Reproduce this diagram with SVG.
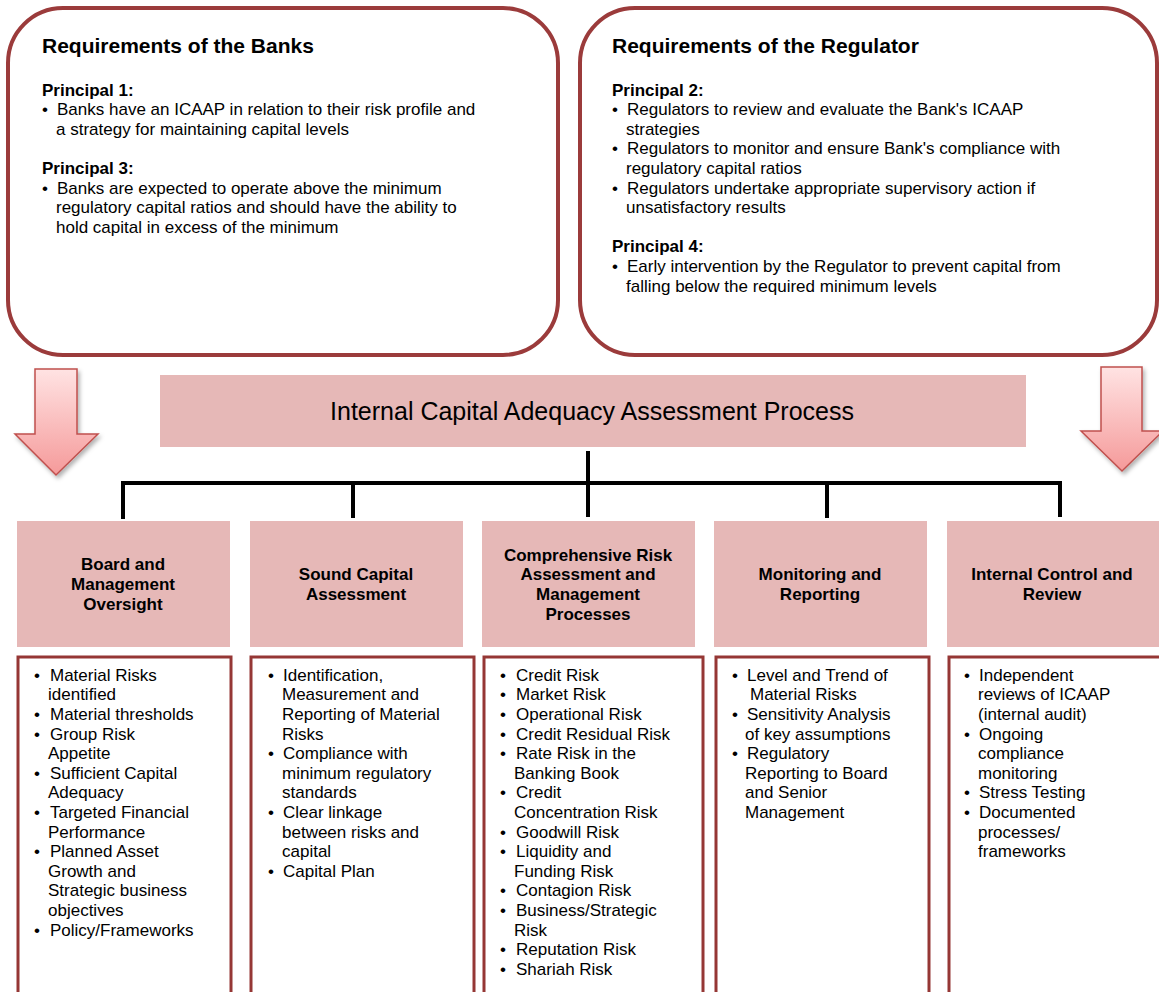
<svg xmlns="http://www.w3.org/2000/svg" width="1159" height="992" viewBox="0 0 1159 992">
<style>
text{font-family:"Liberation Sans",Arial,sans-serif;fill:#000}
.t{font-size:17px}
.b{font-size:17px;font-weight:bold}
.h{font-size:21px;font-weight:bold}
.hd{font-size:17px;font-weight:bold;text-anchor:middle}
.req{fill:#fff;stroke:#9b3b3b;stroke-width:4}
.pink{fill:#e6b8b7}
.list{fill:#fff;stroke:#953735;stroke-width:3}
.arrow{fill:url(#ag);stroke:#c0504d;stroke-width:1.5}
.con{fill:none;stroke:#000;stroke-width:4}
</style>
<defs>
<linearGradient id="ag" x1="0" y1="0" x2="0" y2="1">
<stop offset="0" stop-color="#ffe3e3"/>
<stop offset="1" stop-color="#f59a9a"/>
</linearGradient>
<filter id="sh" x="-20%" y="-20%" width="150%" height="150%">
<feDropShadow dx="2" dy="3" stdDeviation="2" flood-color="#000" flood-opacity="0.3"/>
</filter>
</defs>
<rect width="1159" height="992" fill="#fff"/>

<g id="banks">
<rect class="req" x="8" y="8" width="550" height="347" rx="55" ry="55"/>
<text class="h" x="42" y="53">Requirements of the Banks</text>
<text class="b" x="42" y="96">Principal 1:</text>
<text class="t" x="42" y="115">•</text>
<text class="t" x="57" y="115">Banks have an ICAAP in relation to their risk profile and</text>
<text class="t" x="56" y="135">a strategy for maintaining capital levels</text>
<text class="b" x="42" y="174">Principal 3:</text>
<text class="t" x="42" y="194">•</text>
<text class="t" x="57" y="194">Banks are expected to operate above the minimum</text>
<text class="t" x="56" y="213">regulatory capital ratios and should have the ability to</text>
<text class="t" x="56" y="233">hold capital in excess of the minimum</text>
</g>

<g id="regulator">
<rect class="req" x="580" y="8" width="577" height="347" rx="55" ry="55"/>
<text class="h" x="612" y="53">Requirements of the Regulator</text>
<text class="b" x="612" y="96">Principal 2:</text>
<text class="t" x="612" y="115">•</text>
<text class="t" x="627" y="115">Regulators to review and evaluate the Bank's ICAAP</text>
<text class="t" x="626" y="135">strategies</text>
<text class="t" x="612" y="154">•</text>
<text class="t" x="627" y="154">Regulators to monitor and ensure Bank's compliance with</text>
<text class="t" x="626" y="174">regulatory capital ratios</text>
<text class="t" x="612" y="194">•</text>
<text class="t" x="627" y="194">Regulators undertake appropriate supervisory action if</text>
<text class="t" x="626" y="213">unsatisfactory results</text>
<text class="b" x="612" y="252">Principal 4:</text>
<text class="t" x="612" y="272">•</text>
<text class="t" x="627" y="272">Early intervention by the Regulator to prevent capital from</text>
<text class="t" x="626" y="292">falling below the required minimum levels</text>
</g>

<g id="arrow-left" filter="url(#sh)">
<polygon class="arrow" points="35,369 77,369 77,434 98,434 56,475 15,434 35,434"/>
</g>
<g id="arrow-right" filter="url(#sh)">
<polygon class="arrow" points="1101,367 1142,367 1142,431 1163,431 1122,471 1081,431 1101,431"/>
</g>

<g id="icaap">
<rect class="pink" x="160" y="375" width="866" height="72"/>
<text x="592" y="420" font-size="25" text-anchor="middle" fill="#111">Internal Capital Adequacy Assessment Process</text>
</g>

<g id="connectors">
<path class="con" d="M588 451 V517"/>
<path class="con" d="M121 483 H1062"/>
<path class="con" d="M123 481 V519"/>
<path class="con" d="M353 481 V518"/>
<path class="con" d="M827 481 V518"/>
<path class="con" d="M1060 481 V517"/>
</g>

<g id="col1">
<rect class="pink" x="17" y="521" width="213" height="126"/>
<text class="hd" x="123" y="570">Board and</text>
<text class="hd" x="123" y="590">Management</text>
<text class="hd" x="123" y="610">Oversight</text>
<rect class="list" x="18" y="657" width="213" height="345"/>
<text class="t" x="34" y="681">•</text>
<text class="t" x="50" y="681">Material Risks</text>
<text class="t" x="48" y="700">identified</text>
<text class="t" x="34" y="720">•</text>
<text class="t" x="50" y="720">Material thresholds</text>
<text class="t" x="34" y="740">•</text>
<text class="t" x="50" y="740">Group Risk</text>
<text class="t" x="48" y="759">Appetite</text>
<text class="t" x="34" y="779">•</text>
<text class="t" x="50" y="779">Sufficient Capital</text>
<text class="t" x="48" y="798">Adequacy</text>
<text class="t" x="34" y="818">•</text>
<text class="t" x="50" y="818">Targeted Financial</text>
<text class="t" x="48" y="838">Performance</text>
<text class="t" x="34" y="857">•</text>
<text class="t" x="50" y="857">Planned Asset</text>
<text class="t" x="48" y="877">Growth and</text>
<text class="t" x="48" y="896">Strategic business</text>
<text class="t" x="48" y="916">objectives</text>
<text class="t" x="34" y="936">•</text>
<text class="t" x="50" y="936">Policy/Frameworks</text>
</g>

<g id="col2">
<rect class="pink" x="250" y="521" width="213" height="126"/>
<text class="hd" x="356" y="580">Sound Capital</text>
<text class="hd" x="356" y="600">Assessment</text>
<rect class="list" x="251" y="657" width="223" height="345"/>
<text class="t" x="268" y="681">•</text>
<text class="t" x="283" y="681">Identification,</text>
<text class="t" x="282" y="700">Measurement and</text>
<text class="t" x="282" y="720">Reporting of Material</text>
<text class="t" x="282" y="740">Risks</text>
<text class="t" x="268" y="759">•</text>
<text class="t" x="283" y="759">Compliance with</text>
<text class="t" x="282" y="779">minimum regulatory</text>
<text class="t" x="282" y="798">standards</text>
<text class="t" x="268" y="818">•</text>
<text class="t" x="283" y="818">Clear linkage</text>
<text class="t" x="282" y="838">between risks and</text>
<text class="t" x="282" y="857">capital</text>
<text class="t" x="268" y="877">•</text>
<text class="t" x="283" y="877">Capital Plan</text>
</g>

<g id="col3">
<rect class="pink" x="482" y="521" width="213" height="126"/>
<text class="hd" x="588" y="561">Comprehensive Risk</text>
<text class="hd" x="588" y="580">Assessment and</text>
<text class="hd" x="588" y="600">Management</text>
<text class="hd" x="588" y="620">Processes</text>
<rect class="list" x="484" y="657" width="219" height="345"/>
<text class="t" x="500" y="681">•</text>
<text class="t" x="516" y="681">Credit Risk</text>
<text class="t" x="500" y="700">•</text>
<text class="t" x="516" y="700">Market Risk</text>
<text class="t" x="500" y="720">•</text>
<text class="t" x="516" y="720">Operational Risk</text>
<text class="t" x="500" y="740">•</text>
<text class="t" x="516" y="740">Credit Residual Risk</text>
<text class="t" x="500" y="759">•</text>
<text class="t" x="516" y="759">Rate Risk in the</text>
<text class="t" x="514" y="779">Banking Book</text>
<text class="t" x="500" y="798">•</text>
<text class="t" x="516" y="798">Credit</text>
<text class="t" x="514" y="818">Concentration Risk</text>
<text class="t" x="500" y="838">•</text>
<text class="t" x="516" y="838">Goodwill Risk</text>
<text class="t" x="500" y="857">•</text>
<text class="t" x="516" y="857">Liquidity and</text>
<text class="t" x="514" y="877">Funding Risk</text>
<text class="t" x="500" y="896">•</text>
<text class="t" x="516" y="896">Contagion Risk</text>
<text class="t" x="500" y="916">•</text>
<text class="t" x="516" y="916">Business/Strategic</text>
<text class="t" x="514" y="936">Risk</text>
<text class="t" x="500" y="955">•</text>
<text class="t" x="516" y="955">Reputation Risk</text>
<text class="t" x="500" y="975">•</text>
<text class="t" x="516" y="975">Shariah Risk</text>
</g>

<g id="col4">
<rect class="pink" x="714" y="521" width="213" height="126"/>
<text class="hd" x="820" y="580">Monitoring and</text>
<text class="hd" x="820" y="600">Reporting</text>
<rect class="list" x="716" y="657" width="213" height="345"/>
<text class="t" x="732" y="681">•</text>
<text class="t" x="747" y="681">Level and Trend of</text>
<text class="t" x="750" y="700">Material Risks</text>
<text class="t" x="732" y="720">•</text>
<text class="t" x="747" y="720">Sensitivity Analysis</text>
<text class="t" x="745" y="740">of key assumptions</text>
<text class="t" x="732" y="759">•</text>
<text class="t" x="747" y="759">Regulatory</text>
<text class="t" x="745" y="779">Reporting to Board</text>
<text class="t" x="745" y="798">and Senior</text>
<text class="t" x="745" y="818">Management</text>
</g>

<g id="col5">
<rect class="pink" x="947" y="521" width="214" height="126"/>
<text class="hd" x="1052" y="580">Internal Control and</text>
<text class="hd" x="1052" y="600">Review</text>
<rect class="list" x="949" y="657" width="220" height="345"/>
<text class="t" x="964" y="681">•</text>
<text class="t" x="979" y="681">Independent</text>
<text class="t" x="978" y="700">reviews of ICAAP</text>
<text class="t" x="978" y="720">(internal audit)</text>
<text class="t" x="964" y="740">•</text>
<text class="t" x="979" y="740">Ongoing</text>
<text class="t" x="978" y="759">compliance</text>
<text class="t" x="978" y="779">monitoring</text>
<text class="t" x="964" y="798">•</text>
<text class="t" x="979" y="798">Stress Testing</text>
<text class="t" x="964" y="818">•</text>
<text class="t" x="979" y="818">Documented</text>
<text class="t" x="978" y="838">processes/</text>
<text class="t" x="978" y="857">frameworks</text>
</g>
</svg>
